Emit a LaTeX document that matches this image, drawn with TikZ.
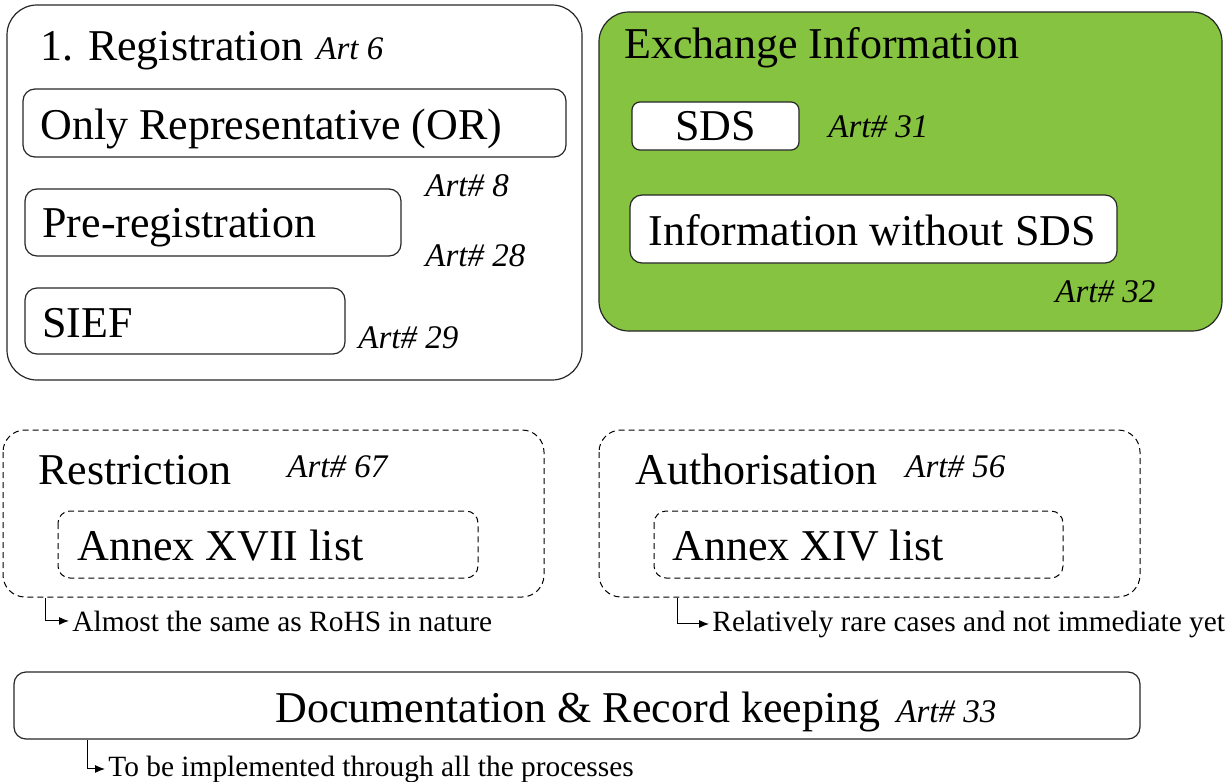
\documentclass[tikz,border=0pt]{standalone}
\usepackage{fontspec}
\setmainfont{Liberation Serif}[ItalicFont=Liberation Serif Italic]
\usetikzlibrary{arrows.meta}
\definecolor{exgreen}{RGB}{134,195,64}
\tikzset{
	big/.style={font=\fontsize{22}{26}\selectfont, anchor=base west, inner sep=0pt},
	art/.style={font=\fontsize{16.5}{20}\selectfont\itshape, anchor=base west, inner sep=0pt},
	remark/.style={font=\fontsize{14.7}{18}\selectfont, anchor=base west, inner sep=0pt},
	solidbox/.style={draw=black!85, line width=0.6pt, rounded corners=6pt},
	dashbox/.style={draw, line width=0.5pt, dash pattern=on 3pt off 2pt, rounded corners=6pt},
	pointer/.style={-{Latex[length=5pt,width=4pt]}, line width=0.5pt, shorten >=1.5pt},
}

\begin{document}
\begin{tikzpicture}[x=0.5pt, y=-0.5pt]

						\useasboundingbox (0,0) rectangle (1227,782);

						\coordinate(rs) at (45, 598);
						\coordinate(au) at (677, 598);
						\coordinate(dc) at (87, 740);

						% registration
						\draw[solidbox, rounded corners=15pt] (7, 5) rectangle (582, 380);
						\draw[solidbox] (23, 89) rectangle (566, 157);
						\draw[solidbox] (25, 189) rectangle (401, 256);
						\draw[solidbox] (25, 288) rectangle (345, 354);
						\node[big] (reg) at (40, 60) {1. Registration};
						\node[art] (art6) at (316, 59) {Art 6};
						\node[big] (or) at (40, 139) {Only Representative (OR)};
						\node[art] (art8) at (425, 196) {Art\# 8};
						\node[big] (pre) at (42, 237) {Pre-registration};
						\node[art] (art28) at (425, 266) {Art\# 28};
						\node[big] (sief) at (42, 337) {SIEF};
						\node[art] (art29) at (358, 348) {Art\# 29};

						% exchange information
						\draw[solidbox, fill=exgreen, rounded corners=15pt] (599, 12) rectangle (1222, 331);
						\draw[solidbox, fill=white, rounded corners=4pt] (632, 102) rectangle (799, 150);
						\draw[solidbox, fill=white] (630, 195) rectangle (1117, 263);
						\node[big] (exch) at (624, 58) {Exchange Information};
						\node[big, anchor=base] (sds) at (715.5, 140) {SDS};
						\node[art] (art31) at (828, 137) {Art\# 31};
						\node[big] (wsds) at (648, 245) {Information without SDS};
						\node[art] (art32) at (1055, 302) {Art\# 32};

						% restriction and authorisation
						\draw[dashbox, rounded corners=11pt] (3, 430) rectangle (544, 597);
						\draw[dashbox] (58, 511) rectangle (478, 578);
						\node[big] (restr) at (38, 484) {Restriction};
						\node[art] (art67) at (287, 477) {Art\# 67};
						\node[big] (xvii) at (77, 560) {Annex XVII list};
						\node[remark] (rohs) at (72, 631) {Almost the same as RoHS in nature};
						\draw[pointer] (rs) |- (rohs.west);

						\draw[dashbox, rounded corners=11pt] (599, 430) rectangle (1140, 597);
						\draw[dashbox] (654, 511) rectangle (1063, 578);
						\node[big] (auth) at (635, 484) {Authorisation};
						\node[art] (art56) at (905, 477) {Art\# 56};
						\node[big] (xiv) at (672, 560) {Annex XIV list};
						\node[remark] (rare) at (712, 631) {Relatively rare cases and not immediate yet};
						\draw[pointer] (au) |- (rare.west);

						% documentation
						\draw[solidbox] (14, 672) rectangle (1140, 739);
						\node[big] (doc) at (275, 722) {Documentation \& Record keeping};
						\node[art] (art33) at (896, 722) {Art\# 33};
						\node[remark] (impl) at (108, 776) {To be implemented through all the processes};
						\draw[pointer] (dc) |- (impl.west);

					\end{tikzpicture}
\end{document}
